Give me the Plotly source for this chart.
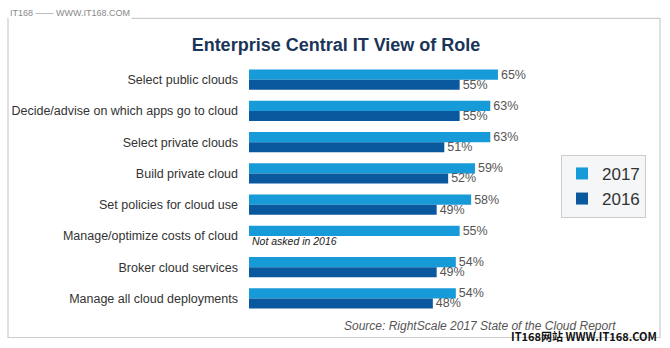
import plotly.graph_objects as go

categories = [
    "Select public clouds",
    "Decide/advise on which apps go to cloud",
    "Select private clouds",
    "Build private cloud",
    "Set policies for cloud use",
    "Manage/optimize costs of cloud",
    "Broker cloud services",
    "Manage all cloud deployments",
]
v2017 = [65, 63, 63, 59, 58, 55, 54, 54]
v2016 = [55, 55, 51, 52, 49, None, 49, 48]
series_names = ["2017", "2016"]

W, H = 670, 348
L, R, T, B = 249, 38, 64.4, 34.4
PW, PH = W - L - R, H - T - B


def px(x):
    return (x - L) / PW


def py(y):
    return 1 - (y - T) / PH


FONT = "Arial, Liberation Sans, sans-serif"

fig = go.Figure()
fig.add_trace(go.Bar(
    name=series_names[0], y=categories, x=v2017, orientation="h",
    marker=dict(color="#179ad8", line=dict(width=0)),
    texttemplate="%{x}%", textposition="outside", constraintext="none",
    textfont=dict(size=12.5, color="#555555", family=FONT), cliponaxis=False,
))
fig.add_trace(go.Bar(
    name=series_names[1], y=categories, x=v2016, orientation="h",
    marker=dict(color="#0a589e", line=dict(width=0)),
    texttemplate="%{x}%", textposition="outside", constraintext="none",
    textfont=dict(size=12.5, color="#555555", family=FONT), cliponaxis=False,
))

fig.update_layout(
    width=W, height=H,
    margin=dict(l=L, r=R, t=T, b=B, pad=0, autoexpand=False),
    paper_bgcolor="white", plot_bgcolor="white",
    barmode="group", bargap=0.357, bargroupgap=0,
    font=dict(family=FONT, color="#333333"),
    title=dict(text="<b>Enterprise Central IT View of Role</b>",
               x=336 / W, xanchor="center", xref="container",
               y=1 - 45 / H, yanchor="middle", yref="container",
               font=dict(size=18, color="#1a3558", family=FONT)),
    xaxis=dict(range=[0, 100], visible=False, showgrid=False, zeroline=False),
    yaxis=dict(autorange="reversed", showgrid=False, zeroline=False,
               showline=False, ticks="", ticklabelstandoff=10, automargin=False,
               tickfont=dict(size=12.5, color="#333333", family=FONT)),
    legend=dict(xref="paper", yref="paper",
                x=px(561), y=py(155), xanchor="left", yanchor="top",
                bgcolor="#f5f6f7", bordercolor="#cccccc", borderwidth=1,
                font=dict(size=17, color="#333333", family=FONT),
                itemwidth=30,
                traceorder="normal", tracegroupgap=4),
    showlegend=True,
)

# Frame
fig.add_shape(type="rect", xref="paper", yref="paper",
              x0=px(8), x1=px(660), y0=py(19), y1=py(337),
              line=dict(color="#cccccc", width=1.2), fillcolor="rgba(0,0,0,0)",
              layer="below")

fig.add_annotation(text="<i>Not asked in 2016</i>", xref="x", yref="y",
                   x=0, y=categories[5], xanchor="left", yanchor="middle",
                   yshift=-5, xshift=1, showarrow=False,
                   font=dict(size=10.5, color="#222222", family=FONT))

fig.add_annotation(text="<i>Source: RightScale 2017 State of the Cloud Report</i>",
                   xref="paper", yref="paper", x=px(342), y=py(326),
                   xanchor="left", yanchor="middle", showarrow=False,
                   font=dict(size=12, color="#555555", family=FONT))

# Watermarks
fig.add_annotation(text="IT168 —— WWW.IT168.COM", xref="paper", yref="paper",
                   x=px(8), y=py(14), xanchor="left", yanchor="middle",
                   showarrow=False, bgcolor="white",
                   font=dict(size=9, color="#888888", family=FONT))
fig.add_annotation(text="<b>IT168网站 WWW.IT168.COM</b>", xref="paper", yref="paper",
                   x=px(659), y=py(336), xanchor="right", yanchor="middle",
                   showarrow=False,
                   font=dict(size=11, color="#111111", family="Noto Sans CJK SC, Arial"))

fig.write_html("out.html")
